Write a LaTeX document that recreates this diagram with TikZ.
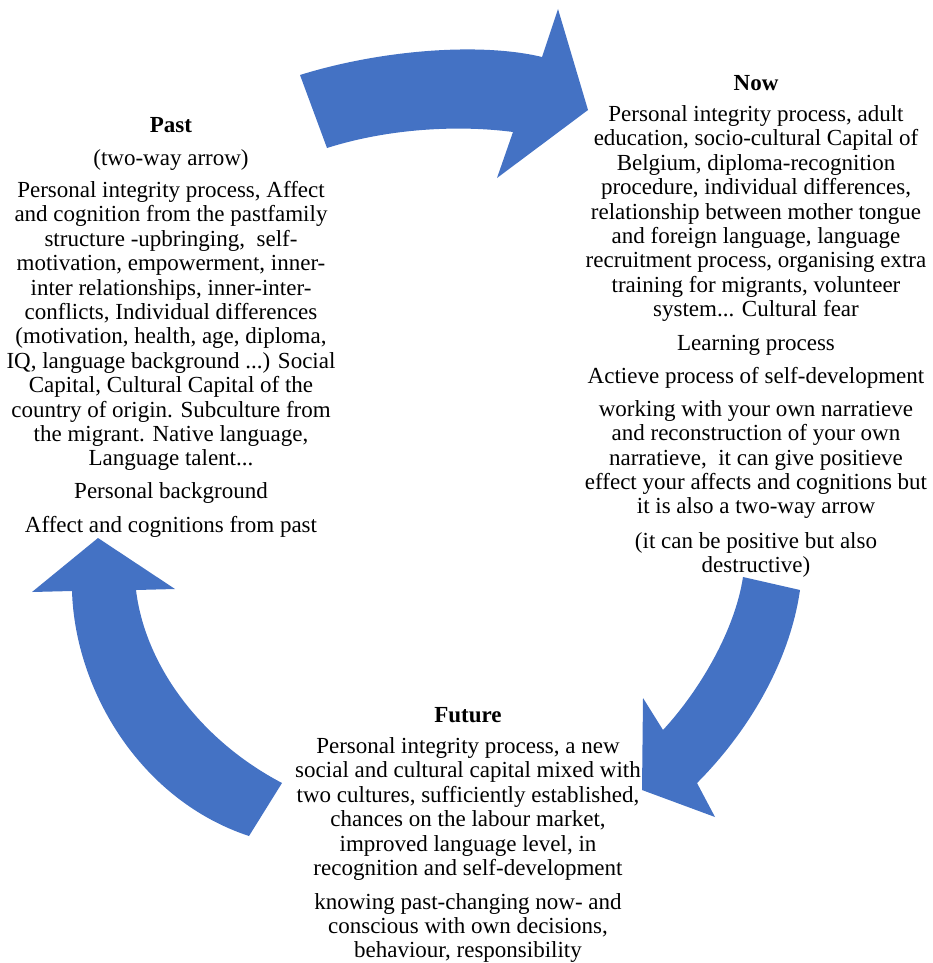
\documentclass[tikz,border=0pt]{standalone}
\usepackage{fontspec}
\setmainfont{Liberation Serif}
\definecolor{arrowblue}{HTML}{4472C4}
\tikzset{
  txt/.style={align=center, inner sep=0pt, font=\fontsize{23}{24.4}\selectfont, text=black},
  ttl/.style={txt, font=\fontsize{23}{24.4}\selectfont\bfseries},
  bigarrow/.style={fill=arrowblue, draw=none}
}
\begin{document}
\begin{tikzpicture}[x=1pt, y=-1pt]
\useasboundingbox (0,0) rectangle (932,963);

% top arrow (Past -> Now)
\fill[bigarrow] (300,75) .. controls (380,50) and (480,42) .. (542,57)
  -- (558,9) -- (588,110) -- (497,178) -- (513,132)
  .. controls (460,125) and (390,128) .. (327,148) -- cycle;

% right arrow (Now -> Future)
\fill[bigarrow] (743,577) -- (800,590)
  .. controls (790,660) and (750,730) .. (697,783)
  -- (715,817) -- (642,790) -- (643,698) -- (663,730)
  .. controls (700,690) and (735,630) .. (743,577) -- cycle;

% left arrow (Future -> Past)
\fill[bigarrow] (249,836) .. controls (140,800) and (75,690) .. (72,591)
  -- (32,592) -- (98,538) -- (175,589) -- (136,590)
  .. controls (145,665) and (200,740) .. (282,783) -- cycle;

% Past
\node[ttl] (pastT) at (171,125) {Past};
\node[txt] (pastA) at (171,160) {(two-way arrow)};
\node[txt] (pastB) at (171,326) {Personal integrity process, Affect\\
and cognition from the pastfamily\\
structure -upbringing,\ \ self-\\
motivation, empowerment, inner-\\
inter relationships, inner-inter-\\
conflicts, Individual differences\\
(motivation, health, age, diploma,\\
IQ, language background ...) Social\\
Capital, Cultural Capital of the\\
country of origin. Subculture from\\
the migrant. Native language,\\
Language talent...};
\node[txt] (pastC) at (171,493) {Personal background};
\node[txt] (pastD) at (171,527) {Affect and cognitions from past};

% Now
\node[ttl] (nowT) at (756,83) {Now};
\node[txt] (nowB) at (756,213.5) {Personal integrity process, adult\\
education, socio-cultural Capital of\\
Belgium, diploma-recognition\\
procedure, individual differences,\\
relationship between mother tongue\\
and foreign language, language\\
recruitment process, organising extra\\
training for migrants, volunteer\\
system... Cultural fear};
\node[txt] (nowC) at (756,345) {Learning process};
\node[txt] (nowD) at (756,378) {Actieve process of self-development};
\node[txt] (nowE) at (756,459.5) {working with your own narratieve\\
and reconstruction of your own\\
narratieve,\ \ it can give positieve\\
effect your affects and cognitions but\\
it is also a two-way arrow};
\node[txt] (nowF) at (756,555) {(it can be positive but also\\
destructive)};

% Future
\node[ttl] (futT) at (468,715) {Future};
\node[txt] (futB) at (468,809) {Personal integrity process, a new\\
social and cultural capital mixed with\\
two cultures, sufficiently established,\\
chances on the labour market,\\
improved language level, in\\
recognition and self-development};
\node[txt] (futC) at (468,928) {knowing past-changing now- and\\
conscious with own decisions,\\
behaviour, responsibility};
\end{tikzpicture}
\end{document}
